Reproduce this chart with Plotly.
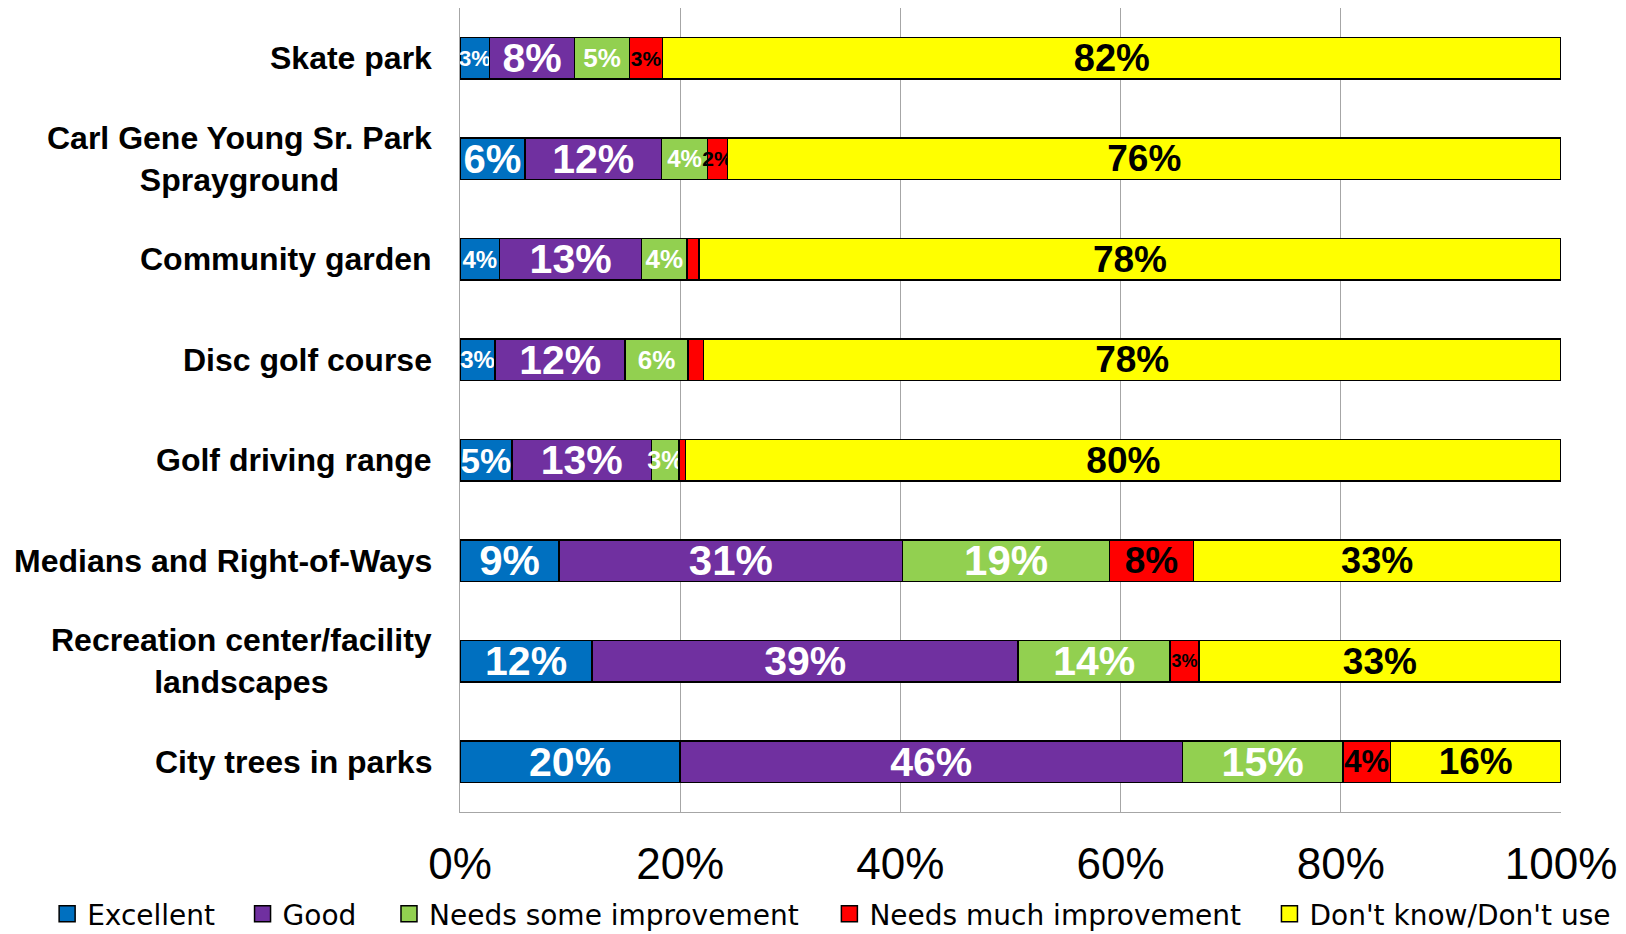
import plotly.graph_objects as go

categories = [
    "Skate park",
    "Carl Gene Young Sr. Park<br>Sprayground",
    "Community garden",
    "Disc golf course",
    "Golf driving range",
    "Medians and Right-of-Ways",
    "Recreation center/facility<br>landscapes",
    "City trees in parks",
]

excellent = [2.7, 5.9, 3.6, 3.2, 4.7, 9.0, 12.0, 20.0]
good = [7.7, 12.4, 12.9, 11.8, 12.7, 31.2, 38.7, 45.6]
needs_some = [5.0, 4.2, 4.1, 5.7, 2.5, 18.8, 13.8, 14.6]
needs_much = [3.0, 1.8, 1.1, 1.4, 0.6, 7.6, 2.6, 4.3]
dont_know = [81.6, 75.7, 78.3, 77.9, 79.5, 33.4, 32.9, 15.5]

series_names = ["Excellent", "Good", "Needs some improvement",
                "Needs much improvement", "Don't know/Don't use"]
series_values = [excellent, good, needs_some, needs_much, dont_know]

x_ticks = [0, 20, 40, 60, 80, 100]
x_tick_labels = ["0%", "20%", "40%", "60%", "80%", "100%"]

# --- styles ---
colors = ["#0070C0", "#7030A0", "#92D050", "#FF0000", "#FFFF00"]
text_colors = ["white", "white", "white", "black", "black"]
label_sizes = [
    [22, 40, 24, 24, 35, 42, 41, 41],
    [41, 41, 41, 41, 41, 42, 41, 41],
    [26, 24, 26, 26, 25, 42, 41, 41],
    [21, 21, 20, 20, 20, 37, 18, 31],
    [38, 37, 37, 37, 37, 36, 37, 37],
]
# legend entry left edges (fraction of plot width, relative to plot left)
legend_x = [-0.3750, -0.1975, -0.0645, 0.3355, 0.7352]
legend_y = -0.127
FONT = "Arial, Liberation Sans, sans-serif"
LEGEND_FONT = "DejaVu Sans, sans-serif"


def label(v):
    return f"{int(v + 0.5)}%" if v >= 1.5 else ""


fig = go.Figure()
legend_ids = ["legend", "legend2", "legend3", "legend4", "legend5"]
for name, vals, col, tcol, sizes, lid in zip(series_names, series_values, colors,
                                             text_colors, label_sizes, legend_ids):
    fig.add_trace(go.Bar(
        name=name,
        y=categories,
        x=vals,
        orientation="h",
        marker=dict(color=col, line=dict(color="black", width=1.5)),
        text=[label(v) for v in vals],
        textposition="inside",
        insidetextanchor="middle",
        textangle=0,
        constraintext="none",
        textfont=dict(family=FONT, size=sizes, color=tcol, weight="bold"),
        hoverinfo="skip",
        showlegend=False,
    ))
    # legend entry (square swatch)
    fig.add_trace(go.Scatter(
        name=name,
        x=[None], y=[None],
        mode="markers",
        marker=dict(symbol="square", size=16, color=col,
                    line=dict(color="black", width=1.5)),
        hoverinfo="skip",
        legend=lid,
        showlegend=True,
    ))

for cat in categories:
    fig.add_annotation(
        x=0, xref="paper", y=cat, yref="y",
        text=cat, showarrow=False,
        xanchor="right", xshift=-26, align="center",
        font=dict(family=FONT, size=32, color="black", weight="bold"),
    )

legend_common = dict(
    orientation="h",
    xanchor="left", yanchor="middle",
    font=dict(family=LEGEND_FONT, size=28, color="black"),
    bgcolor="rgba(0,0,0,0)",
    itemsizing="trace",
)
layout_legends = {}
for lid, lx in zip(legend_ids, legend_x):
    layout_legends[lid] = dict(legend_common, x=lx, y=legend_y)

fig.update_layout(
    barmode="stack",
    bargap=0.59,
    width=1618, height=926,
    margin=dict(l=452, r=65, t=0, b=122, autoexpand=False),
    plot_bgcolor="white",
    paper_bgcolor="white",
    showlegend=True,
    xaxis=dict(
        range=[0, 100],
        tickvals=x_ticks,
        ticktext=x_tick_labels,
        showgrid=True, gridcolor="#A6A6A6", gridwidth=1,
        showline=True, linecolor="#A6A6A6", linewidth=1,
        zeroline=False,
        ticks="", ticklabelstandoff=13,
        tickfont=dict(family=FONT, size=44, color="black"),
        automargin=False,
    ),
    yaxis=dict(
        autorange="reversed",
        showticklabels=False,
        showline=True, linecolor="#A6A6A6", linewidth=1,
        showgrid=False, zeroline=False, ticks="",
        automargin=False,
    ),
    **layout_legends,
)

fig.write_html("out.html")
